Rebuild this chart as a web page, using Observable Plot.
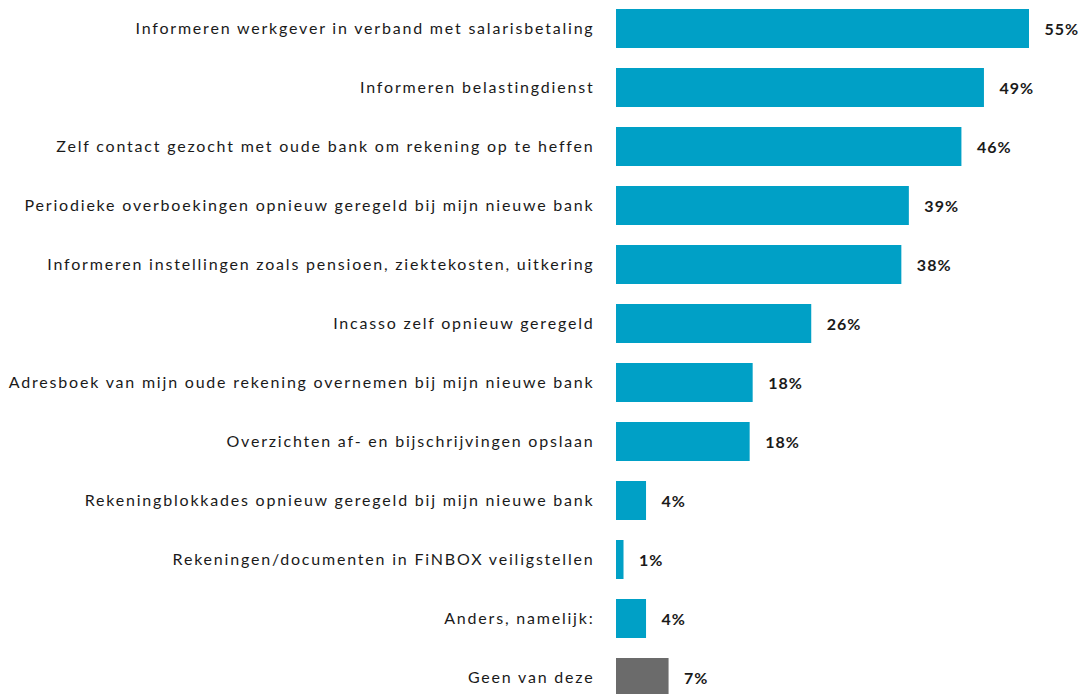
<!DOCTYPE html>
<html>
<head>
<meta charset="utf-8">
<script src="https://cdn.jsdelivr.net/npm/d3@7"></script>
<script src="https://cdn.jsdelivr.net/npm/@observablehq/plot@0.6"></script>
<style>
  html, body { margin: 0; padding: 0; background: #fff; overflow: hidden; }
  #chart svg { display: block; }
  #chart g[aria-label="y-axis tick label"] text { letter-spacing: 1.8px; }
  #chart g[aria-label="text"] text { letter-spacing: 1px; }
</style>
</head>
<body>
<div id="chart"></div>
<script>
const categories = [
  "Informeren werkgever in verband met salarisbetaling",
  "Informeren belastingdienst",
  "Zelf contact gezocht met oude bank om rekening op te heffen",
  "Periodieke overboekingen opnieuw geregeld bij mijn nieuwe bank",
  "Informeren instellingen zoals pensioen, ziektekosten, uitkering",
  "Incasso zelf opnieuw geregeld",
  "Adresboek van mijn oude rekening overnemen bij mijn nieuwe bank",
  "Overzichten af- en bijschrijvingen opslaan",
  "Rekeningblokkades opnieuw geregeld bij mijn nieuwe bank",
  "Rekeningen/documenten in FiNBOX veiligstellen",
  "Anders, namelijk:",
  "Geen van deze"
];
const values = [55, 49, 46, 39, 38, 26, 18.2, 17.8, 4, 1, 4, 7];
const valueLabels = ["55%", "49%", "46%", "39%", "38%", "26%", "18%", "18%", "4%", "1%", "4%", "7%"];
const groups = ["main","main","main","main","main","main","main","main","main","main","main","none"];

const data = categories.map((c, i) => ({category: c, value: values[i], label: valueLabels[i], group: groups[i]}));

const chart = Plot.plot({
  width: 1082,
  height: 694,
  marginLeft: 616,
  marginRight: 53,
  marginTop: 0,
  marginBottom: 0,
  style: {fontFamily: "Lato, 'Open Sans', sans-serif", fontSize: "16px", color: "#1a1a1a", background: "#fff"},
  x: {domain: [0, 55], axis: null},
  y: {domain: categories, range: [7, 698], paddingInner: 0.34, paddingOuter: 0, label: null},
  color: {domain: ["main", "none"], range: ["#00a0c6", "#6b6b6b"]},
  marks: [
    Plot.barX(data, {x: "value", y: "category", fill: "group"}),
    Plot.text(data, {x: "value", y: "category", text: "label", textAnchor: "start", dx: 15, dy: 1, fontWeight: "bold", fontSize: 16, fill: "#1a1a1a"}),
    Plot.axisY({tickSize: 0, tickPadding: 22, fontSize: 16, fill: "#1a1a1a", label: null})
  ]
});
document.getElementById("chart").append(chart);
</script>
</body>
</html>
